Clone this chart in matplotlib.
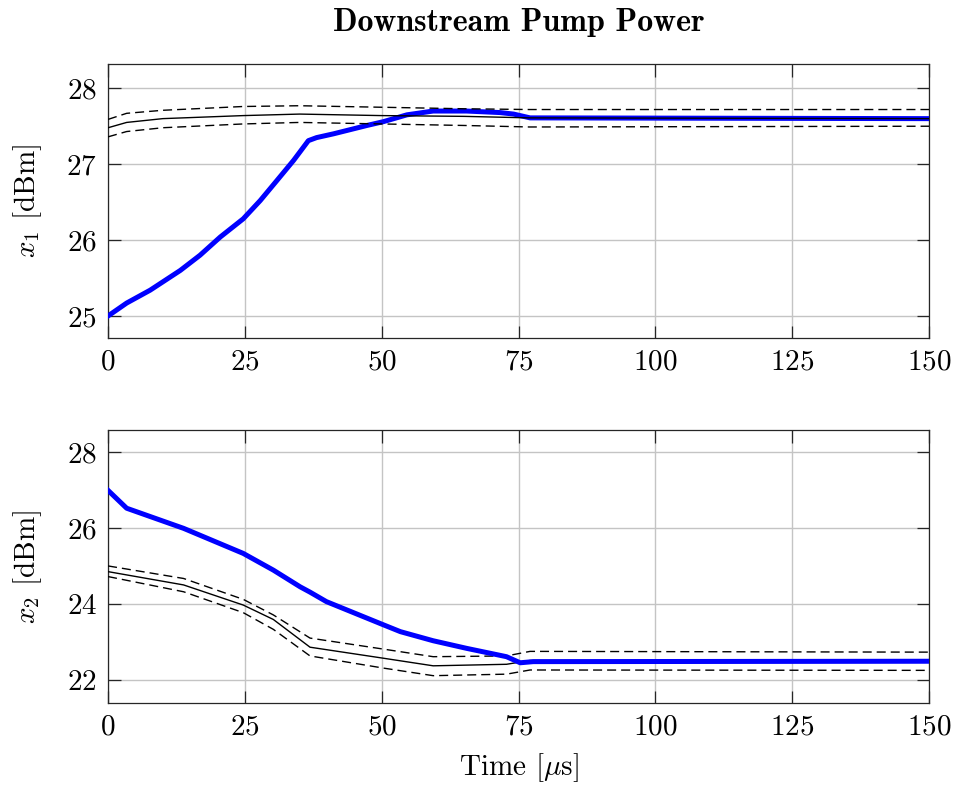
import matplotlib
matplotlib.use('Agg')
import matplotlib.pyplot as plt

plt.rcParams['font.family'] = 'serif'
plt.rcParams['font.serif'] = ['cmr10']
plt.rcParams['mathtext.fontset'] = 'cm'
plt.rcParams['axes.unicode_minus'] = False
plt.rcParams['axes.formatter.use_mathtext'] = True

# top panel: x1
t_ref1 = [0, 3.4, 10, 24.7, 35, 50, 65, 77, 150]
ref1 = [27.48, 27.55, 27.60, 27.64, 27.66, 27.64, 27.63, 27.61, 27.60]
upper1 = [27.59, 27.67, 27.71, 27.76, 27.77, 27.75, 27.73, 27.72, 27.72]
lower1 = [27.36, 27.43, 27.48, 27.53, 27.55, 27.53, 27.51, 27.49, 27.50]

t1 = [0, 3.4, 7.7, 13.2, 16.8, 20.5, 24.7, 27.8, 30.8, 33.9, 36.6, 38.1,
      41.2, 47.3, 50.3, 54.6, 59.4, 65.5, 71.6, 74.1, 77.1, 150]
x1 = [25.0, 25.17, 25.34, 25.6, 25.8, 26.04, 26.28, 26.52, 26.78, 27.05, 27.31,
      27.35, 27.40, 27.51, 27.56, 27.65, 27.70, 27.70, 27.68, 27.66, 27.61, 27.60]

# bottom panel: x2
t_ref2 = [0, 13.8, 24.7, 30.2, 36.9, 50.3, 59.4, 72.8, 77.1, 150]
ref2 = [24.86, 24.51, 23.98, 23.60, 22.87, 22.58, 22.38, 22.42, 22.52, 22.50]
upper2 = [25.01, 24.68, 24.13, 23.72, 23.11, 22.82, 22.62, 22.64, 22.76, 22.74]
lower2 = [24.73, 24.33, 23.78, 23.34, 22.64, 22.32, 22.12, 22.16, 22.27, 22.26]

t2 = [0, 3.4, 13.8, 24.7, 30.2, 35.1, 36.9, 39.9, 50.3, 53.4, 59.4, 65.5,
      72.8, 75.3, 77.7, 150]
x2 = [27.0, 26.53, 26.0, 25.34, 24.90, 24.46, 24.32, 24.07, 23.46, 23.28,
      23.04, 22.84, 22.62, 22.46, 22.49, 22.5]

xticks = [0, 25, 50, 75, 100, 125, 150]
yticks1 = [25, 26, 27, 28]
yticks2 = [22, 24, 26, 28]

fig = plt.figure(figsize=(9.57, 7.9), dpi=100)
ax1 = fig.add_axes([0.1129, 0.5722, 0.8579, 0.3468])
ax2 = fig.add_axes([0.1129, 0.1101, 0.8579, 0.3456])

BLUE = '#0000ff'
dash = [6.5, 3.6]
FS = 21


def style(ax, yticks, ylim, ylabel):
    ax.set_xlim(0, 150)
    ax.set_ylim(*ylim)
    ax.set_xticks(xticks)
    ax.set_yticks(yticks)
    ax.grid(True, color='#c4c4c4', lw=1.0)
    ax.set_axisbelow(True)
    ax.tick_params(direction='in', top=True, right=True, length=9, width=0.9,
                   labelsize=FS, pad=8, color='#262626')
    for s in ax.spines.values():
        s.set_linewidth(0.9)
        s.set_color('#262626')
    ax.set_ylabel(ylabel, fontsize=FS)
    ax.yaxis.set_label_coords(-0.078, 0.5)


ax1.plot(t1, x1, color=BLUE, lw=3.6, zorder=3)
ax1.plot(t_ref1, ref1, color='black', lw=1.0, zorder=4)
ax1.plot(t_ref1, upper1, color='black', lw=1.0, dashes=dash, zorder=4)
ax1.plot(t_ref1, lower1, color='black', lw=1.0, dashes=dash, zorder=4)
style(ax1, yticks1, (24.71, 28.32), r'$x_1$ [dBm]')

ax2.plot(t_ref2, ref2, color='black', lw=1.0, zorder=3)
ax2.plot(t_ref2, upper2, color='black', lw=1.0, dashes=dash, zorder=3)
ax2.plot(t_ref2, lower2, color='black', lw=1.0, dashes=dash, zorder=3)
ax2.plot(t2, x2, color=BLUE, lw=3.6, zorder=4)
style(ax2, yticks2, (21.40, 28.59), r'$x_2$ [dBm]')
ax2.set_xlabel(r'Time [$\mu$s]', fontsize=FS)
ax2.xaxis.set_label_coords(0.5, -0.178)

fig.text(0.5418, 0.972, 'Downstream Pump Power', fontsize=23,
         family='cmb10', ha='center', va='center')

fig.savefig('out.png', dpi=100)
